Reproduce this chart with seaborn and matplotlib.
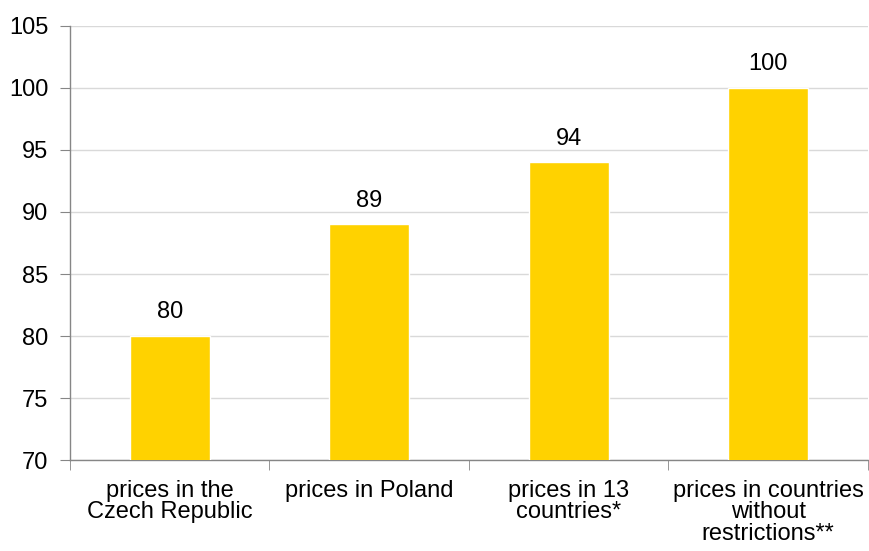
import seaborn as sns
import pandas as pd
import matplotlib.pyplot as plt

categories = ['prices in the\nCzech Republic', 'prices in Poland',
              'prices in 13\ncountries*', 'prices in countries\nwithout\nrestrictions**']
values = [80, 89, 94, 100]
y_ticks = [70, 75, 80, 85, 90, 95, 100, 105]

sns.set_style('white')
plt.rcParams['font.family'] = ['Liberation Sans', 'DejaVu Sans']
fs = 17

df = pd.DataFrame({'category': categories, 'value': values})

fig = plt.figure(figsize=(8.69, 5.51), dpi=100)
ax = fig.add_axes([0.0806, 0.165, 0.918, 0.788])

sns.barplot(data=df, x='category', y='value', color='#FFD200', width=0.4,
            saturation=1, ax=ax, zorder=3)

ax.set_ylim(70, 105)
ax.set_yticks(y_ticks)
ax.set_xlim(-0.5, len(categories) - 0.5)
ax.yaxis.grid(True, color='#D9D9D9', linewidth=1, zorder=0)
ax.set_axisbelow(True)
ax.set_xlabel('')
ax.set_ylabel('')

for s in ['top', 'right']:
    ax.spines[s].set_visible(False)
for s in ['left', 'bottom']:
    ax.spines[s].set_color('#868686')
    ax.spines[s].set_linewidth(1)

ax.tick_params(axis='y', length=7, color='#868686', labelsize=fs, pad=8.5,
               labelcolor='black')
ax.tick_params(axis='x', which='major', length=0, labelsize=fs, pad=14,
               labelcolor='black')
ax.set_xticks([i - 0.5 for i in range(len(categories) + 1)], minor=True)
ax.tick_params(axis='x', which='minor', length=7, color='#868686', direction='out')
ax.tick_params(axis='both', which='both', bottom=True, left=True)
for lbl in ax.get_xticklabels():
    lbl.set_linespacing(0.97)

for i, v in enumerate(values):
    ax.annotate(str(v), (i, v), xytext=(0, 17), textcoords='offset points',
                ha='center', va='center', fontsize=fs, color='black')

fig.savefig('out.png', dpi=100)
